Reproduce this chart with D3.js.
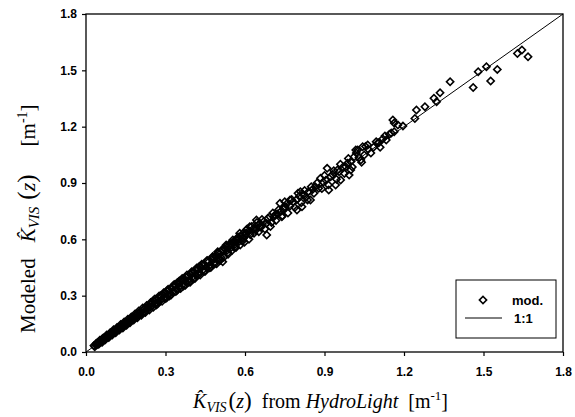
<!DOCTYPE html>
<html>
<head>
<meta charset="utf-8">
<script src="https://cdn.jsdelivr.net/npm/d3@7"></script>
<style>
    body { margin: 0; background: #fff; }
    .tick text { font-family: "Liberation Sans", Arial, sans-serif; font-weight: bold; font-size: 12px; }
    .axis-title { font-family: "Liberation Serif", "Times New Roman", serif; font-size: 20px; }
    .legend text { font-family: "Liberation Sans", Arial, sans-serif; font-weight: bold; font-size: 13px; }
</style>
</head>
<body>
<svg id="chart"></svg>
<script>
// K_VIS(z) from HydroLight (x) vs modeled (y)
const hydroLight = [
    0.030, 0.036, 0.041, 0.045, 0.050, 0.054, 0.058, 0.063, 0.067, 0.071,
    0.075, 0.080, 0.084, 0.088, 0.093, 0.097, 0.101, 0.106, 0.110, 0.115,
    0.119, 0.124, 0.128, 0.133, 0.137, 0.142, 0.146, 0.151, 0.155, 0.160,
    0.164, 0.169, 0.173, 0.178, 0.183, 0.187, 0.192, 0.197, 0.202, 0.207,
    0.212, 0.217, 0.222, 0.227, 0.232, 0.237, 0.242, 0.247, 0.252, 0.258,
    0.263, 0.268, 0.274, 0.279, 0.285, 0.290, 0.296, 0.301, 0.307, 0.312,
    0.318, 0.324, 0.330, 0.336, 0.342, 0.348, 0.354, 0.360, 0.363, 0.366,
    0.372, 0.378, 0.384, 0.390, 0.396, 0.402, 0.408, 0.415, 0.421, 0.427,
    0.428, 0.434, 0.441, 0.447, 0.454, 0.461, 0.468, 0.475, 0.482, 0.489,
    0.491, 0.496, 0.497, 0.503, 0.510, 0.516, 0.516, 0.525, 0.529, 0.532,
    0.540, 0.547, 0.554, 0.555, 0.562, 0.567, 0.570, 0.578, 0.580, 0.586,
    0.594, 0.602, 0.605, 0.605, 0.612, 0.618, 0.620, 0.630, 0.640, 0.643,
    0.650, 0.656, 0.656, 0.660, 0.670, 0.682, 0.682, 0.694, 0.700, 0.710,
    0.713, 0.722, 0.732, 0.735, 0.739, 0.745, 0.751, 0.758, 0.770, 0.770,
    0.782, 0.795, 0.796, 0.805, 0.809, 0.815, 0.820, 0.830, 0.840, 0.847,
    0.855, 0.865, 0.878, 0.885, 0.895, 0.905, 0.910, 0.916, 0.923, 0.930,
    0.942, 0.949, 0.955, 0.961, 0.970, 0.980, 0.987, 0.993, 0.999, 0.999,
    1.012, 1.018, 1.025, 1.030, 1.037, 1.044, 1.050, 1.063, 1.065, 1.085,
    1.101, 1.105, 1.120, 1.133, 1.145, 1.152, 1.158, 1.163, 1.163, 1.177,
    1.196, 1.241, 1.247, 1.279, 1.313, 1.323, 1.336, 1.374, 1.461, 1.480,
    1.511, 1.527, 1.552, 1.628, 1.645, 1.668,
    0.033, 0.039, 0.048, 0.052, 0.061, 0.065, 0.073, 0.078, 0.086, 0.091,
    0.099, 0.104, 0.112, 0.117, 0.126, 0.131, 0.139, 0.144, 0.153, 0.158,
    0.166, 0.171, 0.180, 0.185, 0.194, 0.199, 0.209, 0.214, 0.224, 0.229,
    0.239, 0.244, 0.254, 0.260, 0.270, 0.276, 0.287, 0.293, 0.304, 0.310,
    0.321, 0.327, 0.339, 0.345, 0.357, 0.363, 0.375, 0.381, 0.393, 0.399,
    0.411, 0.418, 0.431, 0.437, 0.450, 0.457, 0.471, 0.478, 0.493, 0.500,
    0.507, 0.513, 0.520, 0.528,
    0.536, 0.543, 0.551, 0.558, 0.566, 0.574, 0.582, 0.590, 0.598, 0.608,
    0.615, 0.625, 0.634, 0.645, 0.652, 0.664, 0.675, 0.686, 0.696, 0.705,
    0.717, 0.727, 0.741, 0.750, 0.762, 0.776, 0.788, 0.800, 0.812, 0.825,
    0.836, 0.850, 0.860, 0.872, 0.890, 0.900, 0.915, 0.935, 0.945, 0.960,
    0.975, 0.990, 1.005, 1.020, 1.040, 1.055, 1.075, 1.095, 1.110, 1.128,
    0.255, 0.265, 0.282, 0.298, 0.305, 0.315, 0.333, 0.345, 0.352, 0.368,
    0.376, 0.388, 0.398, 0.405, 0.418, 0.425, 0.438, 0.446, 0.458, 0.466,
    0.478, 0.486, 0.500, 0.508, 0.522, 0.535, 0.548, 0.560, 0.575, 0.590,
    0.060, 0.082, 0.095, 0.108, 0.122, 0.135, 0.148, 0.162, 0.176, 0.190,
    0.205, 0.220, 0.235, 0.250
];
const modeled = [
    0.034, 0.040, 0.038, 0.050, 0.047, 0.058, 0.055, 0.066, 0.063, 0.076,
    0.072, 0.084, 0.081, 0.093, 0.090, 0.102, 0.098, 0.111, 0.107, 0.120,
    0.116, 0.130, 0.125, 0.139, 0.134, 0.149, 0.143, 0.157, 0.152, 0.167,
    0.160, 0.176, 0.170, 0.185, 0.179, 0.195, 0.188, 0.206, 0.197, 0.215,
    0.207, 0.226, 0.216, 0.236, 0.228, 0.246, 0.238, 0.257, 0.247, 0.268,
    0.258, 0.280, 0.268, 0.292, 0.281, 0.303, 0.290, 0.316, 0.302, 0.327,
    0.313, 0.339, 0.324, 0.352, 0.336, 0.363, 0.349, 0.377, 0.383, 0.361,
    0.389, 0.372, 0.402, 0.386, 0.414, 0.399, 0.428, 0.410, 0.441, 0.454,
    0.424, 0.453, 0.436, 0.466, 0.450, 0.478, 0.462, 0.492, 0.474, 0.506,
    0.517, 0.490, 0.534, 0.520, 0.503, 0.481, 0.543, 0.548, 0.570, 0.540,
    0.566, 0.555, 0.596, 0.580, 0.572, 0.596, 0.598, 0.588, 0.632, 0.615,
    0.604, 0.630, 0.632, 0.650, 0.640, 0.667, 0.625, 0.655, 0.648, 0.703,
    0.676, 0.667, 0.685, 0.664, 0.694, 0.685, 0.623, 0.720, 0.690, 0.722,
    0.729, 0.735, 0.792, 0.748, 0.720, 0.760, 0.774, 0.790, 0.778, 0.809,
    0.800, 0.812, 0.756, 0.830, 0.854, 0.774, 0.838, 0.825, 0.854, 0.809,
    0.865, 0.880, 0.872, 0.925, 0.905, 0.915, 0.978, 0.863, 0.933, 0.945,
    0.889, 0.969, 0.960, 0.916, 0.985, 0.987, 1.005, 0.942, 1.013, 0.969,
    1.040, 1.076, 1.076, 1.035, 1.022, 1.093, 1.049, 1.102, 1.080, 1.090,
    1.113, 1.114, 1.135, 1.129, 1.160, 1.166, 1.235, 1.173, 1.219, 1.209,
    1.203, 1.244, 1.289, 1.306, 1.351, 1.333, 1.381, 1.439, 1.409, 1.492,
    1.519, 1.443, 1.505, 1.590, 1.608, 1.572,
    0.028, 0.047, 0.041, 0.062, 0.052, 0.074, 0.065, 0.090, 0.077, 0.102,
    0.091, 0.118, 0.103, 0.130, 0.117, 0.146, 0.128, 0.160, 0.143, 0.174,
    0.156, 0.187, 0.170, 0.203, 0.182, 0.218, 0.196, 0.234, 0.210, 0.248,
    0.224, 0.264, 0.238, 0.282, 0.255, 0.298, 0.270, 0.315, 0.288, 0.334,
    0.303, 0.350, 0.322, 0.370, 0.338, 0.392, 0.356, 0.410, 0.372, 0.428,
    0.392, 0.448, 0.410, 0.468, 0.430, 0.488, 0.450, 0.508, 0.470, 0.530,
    0.488, 0.545, 0.505, 0.560,
    0.520, 0.578, 0.540, 0.590, 0.556, 0.612, 0.570, 0.628, 0.585, 0.655,
    0.600, 0.668, 0.632, 0.690, 0.640, 0.706, 0.655, 0.712, 0.668, 0.740,
    0.700, 0.758, 0.725, 0.800, 0.740, 0.812, 0.770, 0.845, 0.795, 0.860,
    0.810, 0.880, 0.845, 0.900, 0.870, 0.940, 0.890, 0.965, 0.920, 1.000,
    0.950, 1.030, 0.985, 1.060, 1.010, 1.095, 1.060, 1.120, 1.090, 1.150,
    0.275, 0.250, 0.300, 0.284, 0.325, 0.298, 0.360, 0.330, 0.378, 0.352,
    0.400, 0.372, 0.424, 0.390, 0.440, 0.412, 0.463, 0.430, 0.485, 0.448,
    0.505, 0.470, 0.528, 0.494, 0.552, 0.528, 0.575, 0.556, 0.605, 0.590,
    0.068, 0.087, 0.096, 0.114, 0.124, 0.142, 0.150, 0.170, 0.181, 0.199,
    0.210, 0.231, 0.241, 0.262
];
const tickValues = [0.0, 0.3, 0.6, 0.9, 1.2, 1.5, 1.8];
const axisDomain = [0, 1.8];
const legendLabels = ['mod.', '1:1'];

const points = hydroLight.map((d, i) => ({x: d, y: modeled[i]}));

const totalWidth = 575;
const totalHeight = 417;
const margin = {top: 14, right: 12, bottom: 65, left: 86};
const width = totalWidth - margin.left - margin.right;
const height = totalHeight - margin.top - margin.bottom;

const svg = d3.select('#chart')
    .attr('width', totalWidth)
    .attr('height', totalHeight);

const g = svg.append('g')
    .attr('transform', `translate(${margin.left},${margin.top})`);

const x = d3.scaleLinear().domain(axisDomain).range([0, width]);
const y = d3.scaleLinear().domain(axisDomain).range([height, 0]);

// frame
g.append('rect')
    .attr('width', width)
    .attr('height', height)
    .attr('fill', 'none')
    .attr('stroke', '#000')
    .attr('stroke-width', 1.3);

g.append('g')
    .attr('transform', `translate(0,${height})`)
    .call(d3.axisBottom(x).tickValues(tickValues).tickFormat(d3.format('.1f')).tickSize(4).tickPadding(11))
    .call(a => a.select('.domain').remove());

g.append('g')
    .call(d3.axisLeft(y).tickValues(tickValues).tickFormat(d3.format('.1f')).tickSize(4).tickPadding(5))
    .call(a => a.select('.domain').remove());

g.selectAll('.tick line').attr('stroke-width', 1.2);

// 1:1 line
g.append('line')
    .attr('x1', x(axisDomain[0]))
    .attr('y1', y(axisDomain[0]))
    .attr('x2', x(axisDomain[1]))
    .attr('y2', y(axisDomain[1]))
    .attr('stroke', '#000')
    .attr('stroke-width', 1);

const diamond = d3.symbol().type(d3.symbolSquare).size(26);

g.append('g')
    .selectAll('path')
    .data(points)
    .enter()
    .append('path')
    .attr('d', diamond)
    .attr('transform', d => `translate(${x(d.x)},${y(d.y)}) rotate(45)`)
    .attr('fill', 'none')
    .attr('stroke', '#000')
    .attr('stroke-width', 1.6);

// legend
const legend = g.append('g')
    .attr('class', 'legend')
    .attr('transform', `translate(${width - 107},${height - 72})`);

legend.append('rect')
    .attr('width', 100)
    .attr('height', 58)
    .attr('fill', '#fff')
    .attr('stroke', '#000')
    .attr('stroke-width', 1);

legend.append('path')
    .attr('d', diamond)
    .attr('transform', 'translate(27,20) rotate(45)')
    .attr('fill', 'none')
    .attr('stroke', '#000')
    .attr('stroke-width', 1.6);

legend.append('line')
    .attr('x1', 9)
    .attr('x2', 46)
    .attr('y1', 38)
    .attr('y2', 38)
    .attr('stroke', '#000');

legend.selectAll('text')
    .data(legendLabels)
    .enter()
    .append('text')
    .attr('x', (d, i) => (i === 0 ? 56 : 58))
    .attr('y', (d, i) => (i === 0 ? 25 : 43))
    .text(d => d);

// axis titles
const xTitle = g.append('text')
    .attr('class', 'axis-title')
    .attr('x', width / 2 - 4)
    .attr('y', height + 56)
    .style('text-anchor', 'middle');
xTitle.append('tspan').style('font-style', 'italic').text('K\u0302');
xTitle.append('tspan').style('font-style', 'italic').style('font-size', '14px').attr('dy', 4).text('VIS');
xTitle.append('tspan').style('font-size', '23px').attr('dy', -4).attr('dx', 2).text('(');
xTitle.append('tspan').style('font-style', 'italic').text('z');
xTitle.append('tspan').style('font-size', '23px').text(')');
xTitle.append('tspan').text('\u00a0 from ');
xTitle.append('tspan').style('font-style', 'italic').text('HydroLight');
xTitle.append('tspan').text('\u00a0 [m');
xTitle.append('tspan').style('font-size', '13px').attr('dy', -8).text('-1');
xTitle.append('tspan').attr('dy', 8).text(']');

const yTitle = g.append('text')
    .attr('class', 'axis-title')
    .attr('transform', 'rotate(-90)')
    .attr('x', -(333 - margin.top))
    .attr('y', -margin.left + 35)
    .style('font-size', '21px')
    .style('text-anchor', 'start');
yTitle.append('tspan').text('Modeled');
yTitle.append('tspan').style('font-style', 'italic').attr('dx', 16).text('K\u0302');
yTitle.append('tspan').style('font-style', 'italic').style('font-size', '15px').attr('dy', 4).text('VIS');
yTitle.append('tspan').style('font-size', '25px').attr('dy', -4).attr('dx', 7).text('(');
yTitle.append('tspan').style('font-style', 'italic').style('font-size', '22px').text('z');
yTitle.append('tspan').style('font-size', '25px').text(')');
yTitle.append('tspan').attr('dx', 28).text('[m');
yTitle.append('tspan').style('font-size', '14px').attr('dy', -8).text('-1');
yTitle.append('tspan').attr('dy', 8).text(']');
</script>
</body>
</html>
